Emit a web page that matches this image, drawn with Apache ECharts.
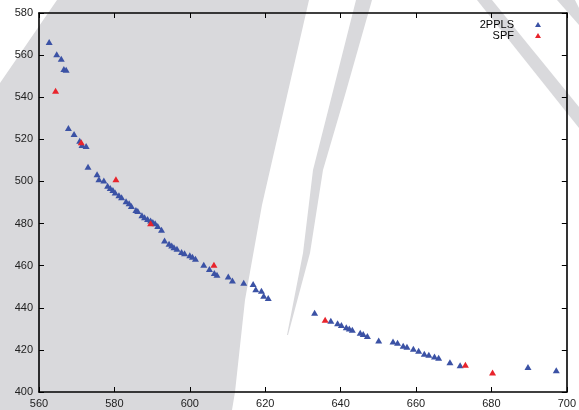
<!DOCTYPE html>
<html>
<head>
<meta charset="utf-8">
<script src="https://cdn.jsdelivr.net/npm/echarts@6/dist/echarts.min.js"></script>
<style>html,body{margin:0;padding:0;background:#fff}#c{width:579px;height:410px}</style>
</head>
<body>
<div id="c"></div>
<script>
const xTicks = [560, 580, 600, 620, 640, 660, 680, 700];
const yTicks = [400, 420, 440, 460, 480, 500, 520, 540, 560, 580];

const ppls_x = [562.7,564.7,565.9,566.6,567.2,567.8,569.3,570.8,571.4,572.5,573.0,575.4,575.9,577.2,578.2,578.9,579.6,580.2,581.2,581.9,583.1,583.9,584.5,585.7,586.2,587.3,588.0,588.8,589.6,590.2,590.8,591.5,592.5,593.3,594.5,595.2,595.8,596.6,597.8,598.6,600.0,600.7,601.5,603.7,605.2,606.5,607.2,610.2,611.3,614.3,616.8,617.5,619.0,619.6,620.8,633.1,637.4,639.2,640.2,641.5,642.3,643.1,645.2,646.0,647.1,650.1,653.9,655.1,656.6,657.6,659.3,660.7,662.2,663.4,664.9,666.0,669.0,671.7,689.7,697.2];
const ppls_y = [566.2,560.4,558.3,553.4,553.1,525.4,522.5,519.3,517.3,516.8,507.0,503.4,501.1,500.5,498.0,496.9,495.9,494.8,493.4,492.5,490.6,489.6,488.3,486.4,486.0,484.0,483.0,482.2,481.5,480.7,480.1,478.8,477.1,471.9,470.4,469.6,468.8,468.0,466.5,465.9,465.0,464.2,463.3,460.4,458.4,456.5,455.7,454.8,452.9,451.9,451.3,448.8,448.1,445.7,444.6,437.6,433.8,432.6,431.8,430.8,430.2,429.6,428.1,427.5,426.6,424.5,424.0,423.4,422.0,421.5,420.5,419.6,418.2,417.7,416.9,416.3,414.1,412.7,411.9,410.3];

const spf_x = [564.4,571.2,580.4,589.6,606.4,635.9,673.1,680.3];
const spf_y = [543.1,518.6,501.1,480.2,460.4,434.3,413.0,409.3];

const pairs = (xs, ys) => xs.map((v, i) => [v, ys[i]]);

const gray = '#d9d9dc';
const shapes = [
  [[57,0],[309,0],[273,157],[262,205],[245,300],[235,392],[232,410],[0,410],[0,83]],
  [[356,0],[372,0],[345,95],[323,170],[310,253],[288,335],[287,335],[303,253],[313,170],[332,95]],
  [[477,0],[492,0],[579,107],[579,128]],
  [[557,0],[575,0],[579,8],[579,25]]
];

const chart = echarts.init(document.getElementById('c'), null, {renderer: 'canvas'});
const axisCommon = {
  axisLine: {show: true, onZero: false, lineStyle: {color: '#000', width: 1.6}},
  axisTick: {show: true, inside: true, length: 5, lineStyle: {color: '#000', width: 1}},
  splitLine: {show: false}
};
const labelStyle = {color: '#222', fontSize: 11, fontFamily: 'Liberation Sans, Arial, sans-serif', margin: 6};

chart.setOption({
  animation: false,
  backgroundColor: '#fff',
  graphic: {
    elements: shapes.map(p => ({
      type: 'polygon', z: -100, silent: true,
      shape: {points: p}, style: {fill: gray}
    }))
  },
  grid: {left: 39, right: 11, top: 13, bottom: 18, containLabel: false},
  legend: {
    orient: 'vertical', right: 33, top: 14, align: 'right',
    itemWidth: 6, itemHeight: 5, itemGap: 0,
    textStyle: {color: '#000', fontSize: 11, lineHeight: 11, fontFamily: 'Liberation Sans, Arial, sans-serif', padding: [0, 16, 0, 0]},
    data: ['2PPLS', 'SPF']
  },
  xAxis: [
    Object.assign({type: 'value', min: xTicks[0], max: xTicks[xTicks.length-1], interval: 20, position: 'bottom',
      axisLabel: labelStyle}, axisCommon),
    Object.assign({type: 'value', min: xTicks[0], max: xTicks[xTicks.length-1], interval: 20, position: 'top',
      axisLabel: {show: false}}, axisCommon)
  ],
  yAxis: [
    Object.assign({type: 'value', min: yTicks[0], max: yTicks[yTicks.length-1], interval: 20, position: 'left',
      axisLabel: labelStyle}, axisCommon),
    Object.assign({type: 'value', min: yTicks[0], max: yTicks[yTicks.length-1], interval: 20, position: 'right',
      axisLabel: {show: false}}, axisCommon)
  ],
  series: [
    {name: '2PPLS', type: 'scatter', symbol: 'triangle', symbolSize: [7, 6],
      itemStyle: {color: '#3b52a5', opacity: 1}, data: pairs(ppls_x, ppls_y), z: 3},
    {name: 'SPF', type: 'scatter', symbol: 'triangle', symbolSize: [7, 6],
      itemStyle: {color: '#e8242c', opacity: 1}, data: pairs(spf_x, spf_y), z: 4}
  ]
});
</script>
</body>
</html>
